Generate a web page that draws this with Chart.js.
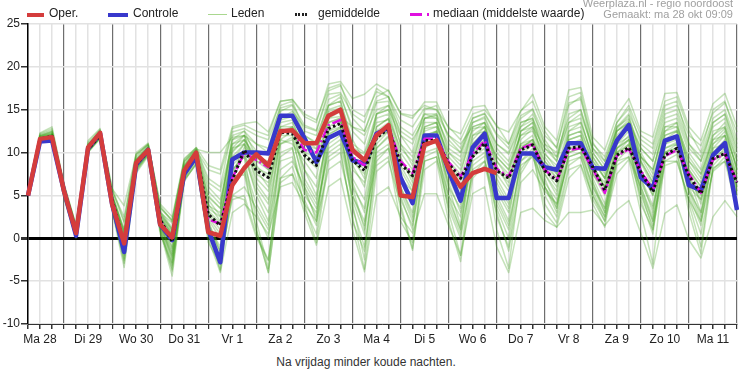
<!DOCTYPE html>
<html>
<head>
<meta charset="utf-8">
<script src="https://cdn.jsdelivr.net/npm/chart.js@4.4.0/dist/chart.umd.min.js"></script>
<style>
body{margin:0;background:#fff;font-family:Arial,"Liberation Sans",sans-serif;}
#wrap{position:relative;width:740px;height:373px;overflow:hidden;}
#box{position:absolute;left:0;top:0;width:740px;height:345px;}
.lg{position:absolute;top:6px;font-size:12px;line-height:14px;color:#222;white-space:nowrap;}
.mk{position:absolute;}
.info{position:absolute;right:7px;font-size:11px;line-height:12px;color:#a0a0a0;white-space:nowrap;}
#caption{position:absolute;left:0;top:355px;width:732px;text-align:center;font-size:12px;line-height:14px;color:#333;}
</style>
</head>
<body>
<div id="wrap">
  <div id="box"><canvas id="plume"></canvas></div>

  <div class="mk" style="left:27px;top:13px;width:17px;height:4px;background:#d43c3c"></div>
  <div class="lg" style="left:49px">Oper.</div>
  <div class="mk" style="left:108px;top:13px;width:20px;height:4px;background:#3838cc"></div>
  <div class="lg" style="left:133px">Controle</div>
  <div class="mk" style="left:208px;top:14px;width:19px;height:1px;background:#a9d78f"></div>
  <div class="lg" style="left:231px">Leden</div>
  <div class="mk" style="left:295px;top:13px;width:12px;height:3px;background:repeating-linear-gradient(90deg,#222 0 2px,transparent 2px 3.3px)"></div>
  <div class="lg" style="left:318px">gemiddelde</div>
  <div class="mk" style="left:410px;top:13px;width:12px;height:3px;background:#e010e0"></div>
  <div class="mk" style="left:427px;top:13px;width:2px;height:3px;background:#e010e0"></div>
  <div class="lg" style="left:433px">mediaan (middelste waarde)</div>

  <div class="info" style="top:-3px">Weerplaza.nl - regio noordoost</div>
  <div class="info" style="top:8px">Gemaakt: ma 28 okt 09:09</div>

  <div id="caption">Na vrijdag minder koude nachten.</div>
</div>
<script>
// dagen op de x-as (label op 12:00), reeks loopt per 6 uur vanaf ma 28 06:00
var dayLabels = ["Ma 28", "Di 29", "Wo 30", "Do 31", "Vr 1", "Za 2", "Zo 3", "Ma 4",
                 "Di 5", "Wo 6", "Do 7", "Vr 8", "Za 9", "Zo 10", "Ma 11"];
var yTicks = [-10, -5, 0, 5, 10, 15, 20, 25];

var oper = [5.0,11.6,11.8, 5.5,0.6,10.6,12.3, 4.0,-0.6,8.8,10.3, 1.6,0.1,7.9,10.0,
  0.7,0.3,6.2,8.2, 9.8,8.5,12.5,12.6, 11.1,11.1,14.3,15.0, 10.3,9.1,12.0,13.2,
  5.0,4.8,10.9,11.4, 8.2,6.0,7.6,8.1, 7.6];

var controle = [5.0,11.3,11.4, 5.5,0.3,10.5,12.2, 4.0,-1.6,8.6,10.3, 1.6,-0.2,7.5,9.5,
  1.0,-2.8,9.2,10.0, 10.0,9.9,14.3,14.3, 11.7,8.9,11.7,12.4, 9.1,8.7,12.2,12.9,
  7.1,4.1,12.0,12.0, 7.9,4.4,10.6,12.2, 4.7,4.7,9.9,9.9, 8.3,8.0,11.1,11.1,
  8.2,8.1,11.4,13.2, 7.1,5.8,11.4,11.9, 6.2,5.6,9.7,11.1, 3.3];

var gemiddelde = [5.0,11.6,11.9, 5.5,0.8,10.4,12.0, 4.5,-0.6,8.6,10.2, 2.2,-0.4,7.8,9.9,
  2.8,1.5,6.8,10.3, 7.9,7.1,12.4,12.2, 9.7,8.5,12.8,13.4, 9.1,7.9,11.7,12.8,
  8.7,7.3,11.4,11.4, 8.7,7.0,9.5,11.1, 7.9,7.0,10.3,10.9, 7.9,6.7,10.5,10.7,
  8.3,5.6,9.7,10.6, 7.7,5.4,9.7,10.5, 7.3,5.2,9.3,9.9, 6.5];

var mediaan = [5.0,11.6,11.9, 5.5,0.8,10.5,12.1, 4.5,-0.5,8.7,10.3, 2.2,-0.3,7.9,10.0,
  2.2,1.7,7.0,10.0, 9.1,8.3,12.6,12.6, 10.3,10.0,13.2,13.8, 9.5,8.5,12.2,13.0,
  9.0,7.6,11.6,11.6, 8.9,7.2,9.8,11.4, 8.1,7.2,10.5,11.0, 8.0,6.8,10.3,10.5,
  8.1,5.3,9.6,10.4, 7.9,5.6,9.6,10.3, 7.5,5.3,9.2,9.8, 6.6];

// ensembleleden
var leden = [
  [5,11.8,12.2, 5.8,1.2,10.9,12.5, 5.2,1.0,9.2,10.8, 3.0,1.8,8.6,10.3, 8.0,7.5,12.4,12.8, 12.0,11.5,15.2,15.6, 13.2,12.6,17.2,17.8, 15.0,14.2,17.1,16.5, 13.8,13.0,15.2,15.0, 12.0,10.5,14.0,14.6, 12.2,11.0,14.3,15.1, 12.0,10.6,15.8,16.2, 11.2,9.0,13.5,15.1, 11.0,9.8,15.0,15.5, 12.0,10.8,14.6,15.8, 12.4],
  [5,11.4,11.6, 5.0,0.3,10.2,11.8, 3.5,-2.9,8.0,9.9, 1.0,-3.8,7.0,9.2, 0.5,-3.6,8.0,9.5, 2.0,-3.5,11.0,11.8, 6.0,2.0,12.2,12.8, 4.0,-2.5,10.5,12.0, 5.0,1.0,11.5,11.0, 3.0,-2.0,8.5,9.6, 1.0,-3.5,7.5,9.8, 4.0,1.8,8.0,8.6, 5.0,2.0,7.5,9.2, 3.0,-3.0,9.5,10.2, 3.0,-1.8,8.2,9.0, 3.2],
  [5,11.7,12.0, 5.6,0.9,10.5,12.1, 4.6,-0.4,8.8,10.3, 2.4,-0.2,7.9,10.0, 3.0,1.5,7.5,10.6, 8.2,7.5,12.8,12.5, 9.5,8.2,13.0,13.8, 9.0,7.5,11.8,13.2, 9.0,7.0,11.0,11.5, 8.5,6.8,9.5,11.4, 8.0,7.0,10.8,11.2, 8.2,6.5,10.4,10.8, 8.5,5.8,10.0,10.8, 8.0,5.5,10.0,10.6, 7.8,5.5,9.6,10.2, 7.0],
  [5,11.9,12.3, 6.0,1.3,10.8,12.4, 4.8,0.2,9.0,10.5, 2.8,0.8,8.2,10.2, 4.5,2.6,10.2,11.5, 9.0,8.6,13.8,14.2, 11.0,10.4,14.8,15.2, 10.6,9.8,13.5,13.8, 8.0,5.5,12.5,13.0, 10.0,9.0,12.8,13.0, 9.5,8.0,12.0,12.5, 9.8,8.5,11.0,11.5, 8.0,6.5,11.8,12.6, 8.8,6.0,12.0,12.6, 9.0,7.5,11.5,12.8, 8.0],
  [5,11.3,11.5, 4.8,0.1,10.0,11.6, 3.8,-2.0,8.2,9.8, 0.8,-4.4,6.6,8.8, 1.5,-3.8,6.0,8.0, 1.0,-4.0,7.0,8.4, 4.0,-0.5,9.0,10.0, 2.5,-3.6,7.8,9.0, 4.0,-1.2,8.0,9.0, 2.0,-2.7,7.0,8.5, 3.0,-1.5,6.5,8.0, 5.5,4.0,9.0,9.5, 5.0,2.5,8.5,9.5, 5.0,1.5,9.0,9.0, 4.5,2.0,7.8,9.0, 5.0],
  [5,12.2,12.8, 6.2,1.4,11.2,12.7, 5.6,1.8,9.6,11.0, 3.5,2.2,9.0,10.5, 7.0,6.0,12.8,13.2, 12.5,12.0,16.0,16.2, 14.2,13.5,18.0,18.3, 16.3,16.8,18.0,17.2, 14.5,14.0,15.9,15.9, 12.8,12.2,15.3,15.5, 13.0,12.4,14.8,16.8, 13.0,11.4,17.3,17.6, 11.8,10.3,14.3,16.3, 12.5,11.8,16.9,17.0, 13.0,11.4,15.7,16.9, 13.0],
  [5,11.5,11.7, 5.3,0.5,10.3,11.9, 4.0,-1.5,8.4,10.0, 1.5,-2.0,7.2,9.6, 1.5,-1.0,9.0,11.0, 6.5,4.5,13.5,13.8, 10.0,8.5,14.0,14.8, 6.5,3.0,10.5,11.8, 6.5,5.0,12.8,13.0, 7.0,4.0,10.0,12.0, 5.0,2.0,11.5,12.8, 7.5,5.0,11.5,12.0, 6.5,3.5,11.0,11.8, 7.0,3.8,11.0,11.5, 6.0,4.5,9.5,11.0, 6.5],
  [5,11.6,12.0, 5.5,0.8,10.6,12.2, 4.5,0.0,8.9,10.4, 2.2,0.0,8.0,9.9, 3.8,3.0,11.0,12.0, 10.2,9.8,14.8,15.5, 12.0,11.2,16.2,16.8, 12.5,11.0,15.8,16.0, 11.0,8.5,14.0,14.3, 10.5,9.5,13.5,14.2, 11.0,9.8,13.0,14.5, 11.5,9.5,14.5,15.0, 10.0,8.0,12.5,13.8, 10.0,7.5,14.0,14.5, 10.5,9.0,13.0,14.0, 9.5],
  [5,11.2,11.4, 4.6,0.0,10.1,11.7, 3.2,-3.4,7.6,9.6, 0.5,-3.0,6.8,8.6, -0.5,-3.0,5.0,6.0, 3.5,1.0,9.5,10.5, 5.0,3.0,10.5,11.5, 5.0,2.0,9.0,10.5, 3.5,-1.4,9.5,10.2, 5.0,2.5,9.8,11.0, 2.5,-1.0,8.0,10.0, 6.0,3.0,10.0,10.5, 6.0,3.0,9.5,11.0, 4.5,0.5,10.5,11.2, 5.0,1.5,10.0,10.5, 5.5],
  [5,12.0,12.5, 6.1,1.0,10.7,12.3, 5.0,0.8,9.4,10.8, 3.2,1.2,8.8,10.4, 5.5,4.0,11.5,12.0, 8.0,6.0,12.0,12.0, 8.0,5.0,12.5,13.5, 10.0,9.0,14.5,15.0, 12.0,11.0,14.5,14.0, 9.0,7.0,11.5,13.0, 9.0,7.5,12.5,13.5, 10.0,8.0,13.0,13.5, 9.5,7.5,12.8,14.3, 9.5,8.0,13.0,13.0, 8.5,6.5,12.0,13.5, 9.0],
  [5,11.4,11.8, 5.1,0.4,10.3,11.9, 4.2,-1.0,8.3,10.1, 1.8,-2.5,7.4,9.5, 2.0,-2.0,6.5,8.5, 4.0,1.5,10.0,10.6, 3.5,0.5,9.5,10.5, 2.0,-1.5,8.5,9.5, 2.0,-0.5,9.0,9.5, 4.0,0.5,7.5,9.0, 4.0,1.0,9.0,10.0, 3.0,1.3,7.0,8.5, 4.0,1.3,9.0,9.5, 6.0,2.0,9.0,9.8, 4.0,-1.0,8.5,10.0, 4.0],
  [5,12.1,12.6, 5.9,1.5,11.0,12.6, 5.5,2.5,9.8,10.9, 4.0,2.5,9.3,10.6, 8.5,8.0,13.0,13.4, 13.6,12.4,16.0,16.2, 14.5,13.8,17.5,18.0, 14.0,12.5,16.5,17.3, 14.6,14.3,15.5,15.0, 13.0,11.5,14.5,15.0, 13.2,11.0,14.9,16.0, 12.5,10.5,16.5,17.0, 11.0,9.5,13.5,15.5, 12.0,11.0,16.0,16.5, 12.5,10.0,15.0,16.0, 11.5],
  [5,11.6,11.9, 5.4,0.6,10.4,12.0, 4.4,-0.8,8.5,10.2, 2.0,-1.2,7.6,9.8, 2.5,0.5,8.5,10.0, 5.0,2.0,12.0,13.0, 7.0,4.5,13.5,14.0, 6.0,1.0,12.5,13.5, 7.5,4.5,12.0,12.5, 6.0,1.5,11.0,12.5, 6.5,4.0,11.0,12.0, 7.0,3.5,12.0,12.5, 6.5,3.0,10.5,12.0, 7.0,3.0,12.0,12.5, 6.0,2.5,10.5,12.0, 6.0],
  [5,11.8,12.1, 5.7,1.1,10.6,12.2, 4.9,0.4,8.9,10.5, 2.6,0.4,8.1,10.0, 4.0,2.0,9.5,11.0, 7.0,5.5,11.5,11.0, 9.0,7.0,14.5,15.0, 9.5,8.0,13.0,14.0, 10.5,9.0,13.5,13.5, 9.5,8.0,12.0,12.5, 8.5,6.0,10.5,11.5, 9.0,7.0,12.0,12.5, 9.0,7.0,11.0,12.5, 9.5,7.0,12.5,13.5, 8.0,6.0,11.0,12.0, 8.5],
  [5,11.5,11.6, 4.9,0.2,10.2,11.7, 3.6,-2.4,7.8,9.7, 1.2,-3.2,7.0,9.0, 1.0,-2.5,4.5,5.0, 0.5,-2.5,7.0,7.5, 3.0,-0.8,6.0,7.0, 1.0,-3.9,5.0,6.0, 2.5,0.6,5.2,5.2, 1.5,-2.0,5.2,6.0, -1.0,-4.0,3.0,3.5, 2.1,1.3,3.0,3.0, 3.3,1.5,3.3,4.4, 0.6,-3.5,2.9,3.9, -0.2,-2.3,2.5,4.4, 2.5],
  [5,12.0,12.4, 6.2,1.5,10.9,12.5, 5.8,3.8,9.8,11.0, 3.8,2.0,9.0,10.4, 10.0,10.0,11.8,12.0, 11.0,10.0,13.0,13.0, 11.5,10.5,14.0,14.2, 13.0,12.0,15.0,15.5, 12.5,11.5,14.0,14.0, 11.0,10.0,13.5,14.0, 10.5,9.0,13.0,13.8, 10.5,9.5,13.5,14.5, 10.5,9.0,12.5,13.5, 10.5,9.0,13.5,14.0, 10.0,8.0,13.5,14.5, 10.5],
  [5,11.7,11.9, 5.5,0.7,10.4,12.0, 4.3,-1.2,8.6,10.2, 1.6,-1.5,7.6,9.6, 2.0,-1.5,5.0,4.5, 0.1,-2.6,8.0,9.0, 6.0,3.5,10.0,11.0, 4.5,0.5,11.0,12.5, 6.0,3.0,10.5,11.5, 6.5,3.0,9.0,10.0, 5.5,3.0,9.5,11.0, 6.5,4.5,10.0,10.5, 7.0,4.0,10.0,11.0, 5.5,1.0,11.0,12.0, 7.0,3.0,9.0,10.5, 6.0],
  [5,11.3,11.7, 5.2,0.3,10.1,11.8, 3.9,-1.8,8.1,9.9, 1.3,-2.8,7.2,9.3, 0.8,-2.2,7.0,7.5, 1.0,-4.0,6.5,7.5, 4.5,1.5,11.0,12.0, 6.0,3.5,11.5,12.5, 8.5,6.0,11.5,12.0, 5.0,1.0,10.5,11.5, 7.0,4.5,12.5,13.5, 8.0,6.0,11.0,11.0, 7.5,5.0,11.5,13.0, 8.0,5.0,11.5,12.0, 7.5,4.0,10.0,11.5, 7.5],
  [5,11.9,12.2, 5.8,1.2,10.8,12.4, 5.0,1.0,9.2,10.6, 3.0,1.0,8.4,10.1, 5.0,3.5,12.0,12.5, 11.0,10.5,15.5,16.0, 12.5,12.0,15.5,16.0, 11.5,9.0,14.0,14.5, 9.5,6.5,13.0,13.5, 8.0,5.5,11.0,12.5, 9.5,8.0,13.5,14.0, 9.5,7.5,12.5,13.5, 9.5,7.0,11.5,13.0, 9.0,6.5,12.5,13.0, 9.5,7.5,12.5,13.0, 8.0],
  [5,11.5,11.8, 5.3,0.5,10.3,11.9, 4.1,-0.6,8.4,10.0, 1.9,-1.0,7.7,9.7, 2.8,1.0,10.0,11.5, 7.5,6.5,12.5,13.0, 8.0,6.0,12.0,13.0, 8.0,6.5,12.0,12.5, 7.0,5.5,11.5,12.5, 8.0,6.0,10.5,11.0, 7.5,5.5,10.0,11.0, 8.5,7.0,10.5,11.0, 7.5,5.5,10.5,11.5, 7.5,5.0,10.5,11.0, 6.5,5.0,9.0,10.0, 7.5],
  [5,11.6,11.8, 5.6,0.9,10.5,12.1, 4.7,-0.2,8.7,10.3, 2.3,0.5,7.9,9.9, 3.5,2.5,9.5,10.0, 6.0,4.0,11.5,12.5, 10.0,9.5,13.5,14.0, 8.5,6.0,13.0,14.0, 9.0,7.5,12.0,12.5, 7.5,5.0,12.0,13.0, 9.0,7.0,11.0,11.5, 7.5,5.5,12.5,13.0, 8.5,6.0,10.5,11.5, 6.0,2.5,11.5,12.5, 8.0,6.0,11.5,12.0, 7.0],
  [5,11.4,11.6, 5.0,0.2,10.1,11.7, 3.4,-2.6,7.9,9.8, 0.9,-3.6,6.8,8.7, 0.0,-4.0,3.0,4.0, 2.5,0.5,6.0,6.5, 4.0,2.0,8.0,9.0, 3.5,-1.0,9.5,10.5, 4.5,1.5,9.0,9.5, 3.5,0.0,8.0,9.0, 3.5,0.0,9.0,10.5, 5.0,2.5,8.5,9.5, 4.5,2.0,9.5,10.5, 4.0,1.0,8.5,9.0, 4.5,0.5,8.0,9.5, 4.0],
  [5,12.3,13.0, 6.4,1.5,11.4,12.8, 5.9,2.0,10.0,11.1, 3.6,2.0,9.2,10.6, 6.5,5.5,11.0,11.5, 9.5,9.0,14.0,14.8, 13.0,12.5,16.8,17.0, 14.5,13.5,17.5,16.5, 12.0,10.0,15.0,15.5, 11.5,10.0,14.0,14.5, 12.0,10.5,14.0,15.0, 11.0,9.0,15.5,16.5, 10.0,8.0,13.0,14.5, 11.5,10.5,15.5,16.0, 11.0,9.5,14.0,15.0, 11.0],
  [5,11.8,12.1, 5.7,1.0,10.7,12.3, 4.9,0.5,9.1,10.6, 2.7,0.6,8.4,10.2, 4.8,3.5,11.5,12.5, 9.5,8.0,13.0,13.5, 10.5,9.5,15.5,16.0, 11.0,10.0,14.5,15.0, 10.0,8.0,13.0,13.5, 9.0,7.5,13.0,13.5, 10.0,8.5,12.0,13.0, 10.5,9.0,13.5,14.0, 9.0,7.0,12.0,13.5, 9.5,8.0,13.0,13.5, 9.0,7.0,12.0,13.0, 9.0],
  [5,11.7,12.1, 5.6,1.0,10.6,12.2, 4.6,-0.3,8.8,10.4, 2.5,0.2,8.0,10.1, 3.2,1.8,10.5,12.0, 8.5,7.0,14.0,14.5, 11.0,10.0,15.0,15.5, 9.5,7.0,14.5,15.5, 11.0,9.5,14.0,14.5, 10.0,8.5,12.5,13.5, 8.0,6.5,12.5,13.0, 9.0,7.5,11.5,12.0, 8.5,6.0,12.5,13.5, 9.0,6.5,11.5,12.0, 7.0,4.5,11.0,12.5, 8.0],
  [5,11.5,11.9, 5.3,0.6,10.4,12.0, 4.3,-1.0,8.5,10.1, 1.9,-1.8,7.5,9.6, 2.2,0.0,8.0,9.5, 5.5,3.0,11.0,11.5, 6.5,4.0,12.5,13.0, 7.0,4.5,12.0,13.0, 6.0,2.5,11.0,11.5, 6.0,3.5,10.0,11.0, 6.0,3.5,10.5,11.5, 6.0,4.0,9.5,10.0, 6.0,3.5,9.0,10.5, 5.5,2.0,10.0,11.0, 5.5,3.0,10.5,11.0, 5.5],
  [5,11.9,12.4, 5.9,1.2,10.8,12.3, 5.1,0.6,9.1,10.6, 2.9,1.0,8.5,10.3, 6.0,4.5,10.5,11.0, 9.0,8.0,15.0,15.0, 12.0,11.0,15.5,16.5, 13.0,12.5,16.0,16.5, 13.0,12.0,14.5,14.5, 12.0,11.0,13.0,13.5, 11.0,10.0,13.5,14.0, 11.0,10.0,14.0,15.0, 10.5,8.5,13.0,14.0, 10.5,9.0,14.5,15.0, 11.0,9.0,13.5,14.5, 10.0],
  [5,11.4,11.7, 5.1,0.4,10.2,11.8, 3.8,-1.4,8.2,10.0, 1.4,-2.2,7.3,9.4, 1.2,-1.5,7.0,8.0, 3.0,0.0,9.0,9.5, 5.5,2.5,11.5,12.5, 5.0,1.5,10.0,11.0, 5.5,2.0,10.0,10.5, 4.5,1.0,9.5,10.5, 4.5,1.5,8.5,9.5, 6.0,3.5,9.5,10.0, 5.5,2.5,10.0,11.5, 6.5,3.5,10.0,10.5, 5.5,2.0,9.5,11.0, 5.0]
];

// categorieen: stappen van 6 uur, eerste stap ma 28 06:00
var steps = [];
for (var i = 0; i < controle.length; i++) {
  steps.push("d" + Math.floor((i + 1) / 4) + " " + ((i + 1) % 4) * 6 + ":00");
}

var datasets = [
  {label: "Oper.", data: oper, borderColor: "#d43c3c", borderWidth: 4.5},
  {label: "gemiddelde", data: gemiddelde, borderColor: "#111", borderWidth: 3, borderDash: [2.5, 2.5]},
  {label: "mediaan (middelste waarde)", data: mediaan, borderColor: "#e010e0", borderWidth: 2.5, borderDash: [10, 3, 2, 3]},
  {label: "Controle", data: controle, borderColor: "#3838cc", borderWidth: 4.5}
];
leden.forEach(function (lid) {
  datasets.push({label: "Leden", data: lid, borderColor: "rgba(62,160,25,0.3)", borderWidth: 1.5});
});

var ctx = document.getElementById("plume").getContext("2d");
new Chart(ctx, {
  type: "line",
  data: {labels: steps, datasets: datasets},
  options: {
    responsive: true,
    maintainAspectRatio: false,
    animation: false,
    events: [],
    layout: {padding: {top: 24, right: 2, left: 0, bottom: 0}},
    elements: {
      line: {tension: 0, fill: false, borderCapStyle: "butt", borderJoinStyle: "round"},
      point: {radius: 0}
    },
    plugins: {legend: {display: false}, tooltip: {enabled: false}},
    scales: {
      x: {
        type: "category",
        offset: false,
        afterFit: function (scale) { scale.height = 21; },
        border: {color: "#333", width: 1},
        grid: {
          color: function (c) { return c.index % 4 === 3 ? "#6e6e6e" : "#e2e2e2"; },
          lineWidth: function (c) { return c.index % 4 === 3 ? 1.2 : 1.5; },
          tickColor: "#333",
          tickLength: 5
        },
        ticks: {
          autoSkip: false,
          maxRotation: 0,
          minRotation: 0,
          padding: 3,
          color: "#222",
          font: {family: "Arial, 'Liberation Sans'", size: 12},
          callback: function (v, index) {
            return (index - 1) % 4 === 0 ? dayLabels[(index - 1) / 4] : "";
          }
        }
      },
      y: {
        min: yTicks[0],
        max: yTicks[yTicks.length - 1],
        afterFit: function (scale) { scale.width = 28; },
        afterBuildTicks: function (scale) {
          scale.ticks = yTicks.map(function (v) { return {value: v}; });
        },
        border: {color: "#000", width: 1.5},
        grid: {
          color: function (c) { return c.tick && c.tick.value === 0 ? "#000" : "#e2e2e2"; },
          lineWidth: function (c) { return c.tick && c.tick.value === 0 ? 3 : 1.5; },
          tickColor: "#333",
          tickLength: 7
        },
        ticks: {
          padding: 1,
          color: "#222",
          font: {family: "Arial, 'Liberation Sans'", size: 12}
        }
      }
    }
  }
});
</script>
</body>
</html>
